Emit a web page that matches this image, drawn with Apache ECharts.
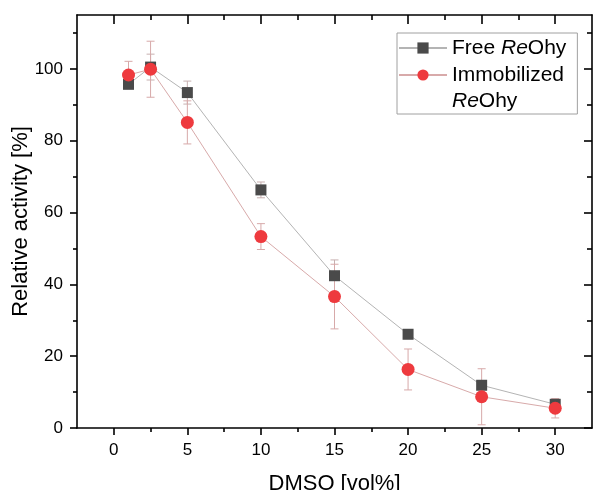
<!DOCTYPE html>
<html>
<head>
<meta charset="utf-8">
<script src="https://cdn.jsdelivr.net/npm/echarts@6/dist/echarts.min.js"></script>
<style>
html,body{margin:0;padding:0;background:#fff;}
#chart{width:593px;height:490px;}
</style>
</head>
<body>
<div id="chart"></div>
<script>
const dmso = [1, 2.5, 5, 10, 15, 20, 25, 30];
const freeActivity = [95.7, 100.5, 93.4, 66.3, 42.4, 26.1, 11.9, 6.6];
const freeError = [1.2, 3.6, 3.2, 2.2, 4.4, 1.0, 1.0, 1.0];
const immActivity = [98.3, 99.9, 85.1, 53.3, 36.6, 16.3, 8.7, 5.5];
const immError = [3.8, 7.8, 6.0, 3.6, 9.0, 5.7, 7.8, 2.7];
const xMajorTicks = [0, 5, 10, 15, 20, 25, 30];
const xMinorTicks = [2.5, 7.5, 12.5, 17.5, 22.5, 27.5];
const yMajorTicks = [0, 20, 40, 60, 80, 100];
const yMinorTicks = [10, 30, 50, 70, 90, 110];

const FONT = '"Liberation Sans", Arial, sans-serif';
const chart = echarts.init(document.getElementById('chart'), null, {renderer: 'canvas'});

const xRange = {min: -2.5, max: 32.5};
const yRange = {min: 0, max: 115};
const lineStyleAxis = {color: '#000', width: 1.6};

function xAx(pos, ticks, len, inside, showLine, labels) {
  return Object.assign({
    type: 'value', position: pos,
    axisLine: {show: showLine, onZero: false, lineStyle: lineStyleAxis},
    axisTick: {show: true, inside: inside, length: len, customValues: ticks, lineStyle: lineStyleAxis},
    axisLabel: labels ? {show: true, customValues: ticks, margin: 14, fontSize: 17, color: '#000', fontFamily: FONT} : {show: false},
    splitLine: {show: false}
  }, xRange);
}
function yAx(pos, ticks, len, inside, showLine, labels) {
  return Object.assign({
    type: 'value', position: pos,
    axisLine: {show: showLine, onZero: false, lineStyle: lineStyleAxis},
    axisTick: {show: true, inside: inside, length: len, customValues: ticks, lineStyle: lineStyleAxis},
    axisLabel: labels ? {show: true, customValues: ticks, margin: 14, fontSize: 17, color: '#000', fontFamily: FONT} : {show: false},
    splitLine: {show: false}
  }, yRange);
}

const xAxes = [
  xAx('bottom', xMajorTicks, 7, false, true, true),
  xAx('bottom', xMinorTicks, 4, false, false, false),
  xAx('top', xMajorTicks, 9, true, true, false),
  xAx('top', xMinorTicks, 5, true, false, false)
];
xAxes[0].name = 'DMSO [vol%]';
xAxes[0].nameLocation = 'middle';
xAxes[0].nameGap = 45;
xAxes[0].nameMoveOverlap = false;
xAxes[0].nameTextStyle = {fontSize: 22, color: '#000', fontFamily: FONT};

const yAxes = [
  yAx('left', yMajorTicks, 7, false, true, true),
  yAx('left', yMinorTicks, 4, false, false, false),
  yAx('right', yMajorTicks, 8, true, true, false),
  yAx('right', yMinorTicks, 5, true, false, false)
];
yAxes[0].name = 'Relative activity [%]';
yAxes[0].nameLocation = 'middle';
yAxes[0].nameGap = 45;
yAxes[0].nameMoveOverlap = false;
yAxes[0].nameTextStyle = {fontSize: 22, color: '#000', fontFamily: FONT};

function errData(xs, ys, es) {
  return xs.map((x, i) => [x, ys[i], es[i]]);
}
function errRender(color) {
  return function (params, api) {
    const x = api.value(0), y = api.value(1), e = api.value(2);
    const top = api.coord([x, y + e]);
    const bot = api.coord([x, y - e]);
    const hw = 4;
    const st = {stroke: color, lineWidth: 1};
    return {
      type: 'group',
      children: [
        {type: 'line', shape: {x1: top[0], y1: top[1], x2: bot[0], y2: bot[1]}, style: st},
        {type: 'line', shape: {x1: top[0] - hw, y1: top[1], x2: top[0] + hw, y2: top[1]}, style: st},
        {type: 'line', shape: {x1: bot[0] - hw, y1: bot[1], x2: bot[0] + hw, y2: bot[1]}, style: st}
      ]
    };
  };
}

const option = {
  backgroundColor: '#fff',
  animation: false,
  grid: {left: 77, right: 1, top: 15, bottom: 62, containLabel: false, outerBoundsMode: 'none'},
  xAxis: xAxes,
  yAxis: yAxes,
  legend: {
    orient: 'vertical',
    left: 397, top: 33,
    padding: [2, 11, 0, 1],
    itemGap: -25,
    itemWidth: 48,
    itemHeight: 14,
    borderColor: '#a0a0a0',
    borderWidth: 1,
    backgroundColor: '#fff',
    textStyle: {fontSize: 21, color: '#000', fontFamily: FONT, lineHeight: 26,
      rich: {i: {fontStyle: 'italic', fontSize: 21, fontFamily: FONT, lineHeight: 26}}},
    data: [
      {name: 'Free ReOhy'},
      {name: 'Immobilized ReOhy', textStyle: {padding: [26, 0, 0, 0]}}
    ],
    formatter: function (name) {
      if (name === 'Free ReOhy') return 'Free {i|Re}Ohy';
      return 'Immobilized\n{i|Re}Ohy';
    }
  },
  series: [
    {
      type: 'custom', name: 'freeErr', xAxisIndex: 0, yAxisIndex: 0,
      renderItem: errRender('#c7b0b0'), data: errData(dmso, freeActivity, freeError), z: 1, silent: true
    },
    {
      type: 'custom', name: 'immErr', xAxisIndex: 0, yAxisIndex: 0,
      renderItem: errRender('#d7a9a9'), data: errData(dmso, immActivity, immError), z: 1, silent: true
    },
    {
      type: 'line', name: 'Free ReOhy', xAxisIndex: 0, yAxisIndex: 0,
      data: dmso.map((x, i) => [x, freeActivity[i]]),
      symbol: 'rect', symbolSize: 11, showAllSymbol: true,
      itemStyle: {color: '#4a4a4a'},
      lineStyle: {color: '#b4b4b4', width: 1},
      z: 3
    },
    {
      type: 'line', name: 'Immobilized ReOhy', xAxisIndex: 0, yAxisIndex: 0,
      data: dmso.map((x, i) => [x, immActivity[i]]),
      symbol: 'circle', symbolSize: 13, showAllSymbol: true,
      itemStyle: {color: '#ee3a3e'},
      lineStyle: {color: '#d8aaaa', width: 1},
      z: 4
    }
  ]
};
chart.setOption(option);
</script>
</body>
</html>
